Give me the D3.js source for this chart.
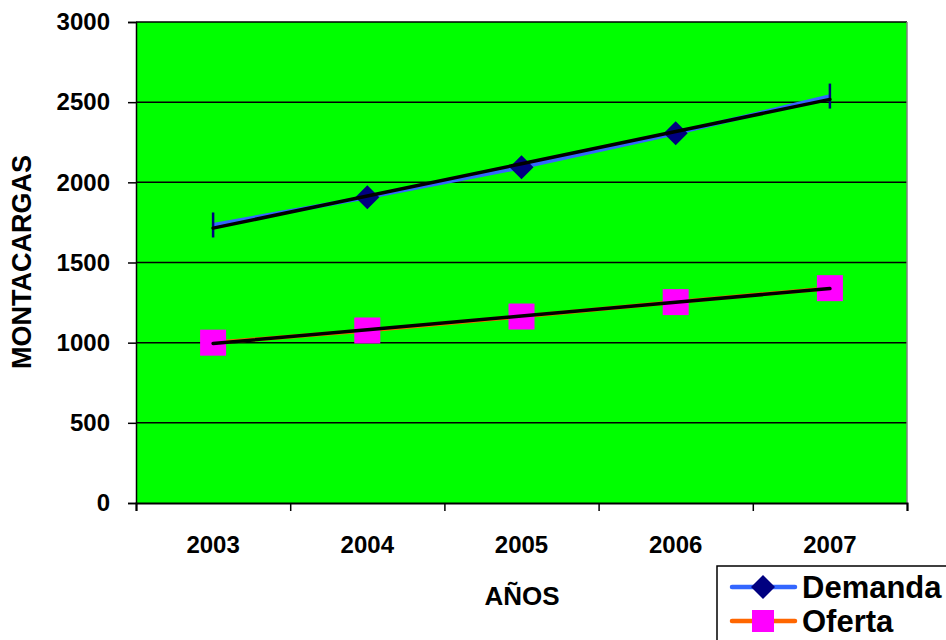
<!DOCTYPE html>
<html>
<head>
<meta charset="utf-8">
<script src="https://cdn.jsdelivr.net/npm/d3@7"></script>
<style>
  body { margin: 0; background: #fff; }
  text { font-family: "Liberation Sans", Arial, sans-serif; font-weight: bold; }
</style>
</head>
<body>
<script>
// data
var years = ["2003", "2004", "2005", "2006", "2007"];
var demanda = [1734, 1907, 2094, 2306, 2538];
var oferta = [1000, 1076, 1163, 1253, 1340];
var yTicks = [0, 500, 1000, 1500, 2000, 2500, 3000];

var width = 946, height = 640;
var plot = {left: 136, right: 907, top: 22, bottom: 503};

var svg = d3.select("body").append("svg")
    .attr("width", width)
    .attr("height", height);

var x = d3.scaleBand().domain(years).range([plot.left, plot.right]);
var xEdge = d3.scaleLinear().domain([0, years.length]).range([plot.left, plot.right]);
var y = d3.scaleLinear().domain([0, 3000]).range([plot.bottom, plot.top]);
var cx = function(d, i) { return x(years[i]) + x.bandwidth() / 2; };

// plot area
svg.append("rect")
    .attr("x", plot.left).attr("y", plot.top)
    .attr("width", plot.right - plot.left).attr("height", plot.bottom - plot.top)
    .attr("fill", "#00ff00");

// gridlines
svg.append("g").selectAll("line")
    .data(yTicks.slice(1))
    .enter().append("line")
    .attr("x1", plot.left).attr("x2", plot.right)
    .attr("y1", function(d) { return y(d); })
    .attr("y2", function(d) { return y(d); })
    .attr("stroke", "#000").attr("stroke-width", 1.5);

// right border
svg.append("line")
    .attr("x1", plot.right).attr("x2", plot.right)
    .attr("y1", plot.top).attr("y2", plot.bottom)
    .attr("stroke", "#808080").attr("stroke-width", 1.5);

// y axis
var yAxis = svg.append("g")
    .attr("transform", "translate(" + plot.left + ",0)")
    .call(d3.axisLeft(y).tickValues(yTicks).tickFormat(d3.format("d")).tickSize(8).tickPadding(18));
yAxis.select(".domain").attr("stroke-width", 1.5);
yAxis.selectAll(".tick line").attr("stroke-width", 1.5);
yAxis.selectAll("text").attr("font-size", 24).attr("fill", "#000");

// x axis: ticks at category edges, labels at centers
var xTicks = svg.append("g")
    .attr("transform", "translate(0," + plot.bottom + ")")
    .call(d3.axisBottom(xEdge).ticks(years.length).tickSize(8).tickFormat(""));
xTicks.select(".domain").attr("stroke-width", 2);
xTicks.selectAll(".tick line").attr("stroke-width", 1.5);

var xLabels = svg.append("g")
    .attr("transform", "translate(0," + plot.bottom + ")")
    .call(d3.axisBottom(x).tickSize(0).tickPadding(33));
xLabels.select(".domain").remove();
xLabels.selectAll("text").attr("font-size", 24).attr("fill", "#000");

// axis titles
svg.append("text")
    .attr("x", 522).attr("y", 605)
    .attr("text-anchor", "middle")
    .attr("font-size", 26)
    .text("AÑOS");

svg.append("text")
    .attr("transform", "translate(31,262) rotate(-90)")
    .attr("text-anchor", "middle")
    .attr("font-size", 27)
    .text("MONTACARGAS");

// linear trendline like the spreadsheet one
function trend(vals) {
    var n = vals.length, mx = (n - 1) / 2, my = d3.mean(vals);
    var sxy = 0, sxx = 0;
    vals.forEach(function(v, i) { sxy += (i - mx) * (v - my); sxx += (i - mx) * (i - mx); });
    var b = sxy / sxx, a = my - b * mx;
    return vals.map(function(v, i) { return a + b * i; });
}

var line = d3.line()
    .x(cx)
    .y(function(d) { return y(d); });

// series lines
svg.append("path").datum(demanda)
    .attr("d", line).attr("fill", "none")
    .attr("stroke", "#3366ff").attr("stroke-width", 4);
svg.append("path").datum(oferta)
    .attr("d", line).attr("fill", "none")
    .attr("stroke", "#ff6600").attr("stroke-width", 4);

// demanda markers: diamonds, bars at the ends
var dm = svg.append("g");
dm.selectAll("path")
    .data(demanda)
    .enter().append("path")
    .attr("d", function(d, i) {
        var px = cx(d, i), py = y(d), s = 12;
        if (i === 0 || i === demanda.length - 1) {
            return "M" + px + "," + (py - 12.5) + "V" + (py + 12.5);
        }
        return "M" + px + "," + (py - s) + "L" + (px + s) + "," + py +
               "L" + px + "," + (py + s) + "L" + (px - s) + "," + py + "Z";
    })
    .attr("fill", function(d, i) { return (i === 0 || i === demanda.length - 1) ? "none" : "#000080"; })
    .attr("stroke", "#000080")
    .attr("stroke-width", function(d, i) { return (i === 0 || i === demanda.length - 1) ? 2.5 : 0; });

// oferta markers: squares
svg.append("g").selectAll("rect")
    .data(oferta)
    .enter().append("rect")
    .attr("x", function(d, i) { return cx(d, i) - 13; })
    .attr("y", function(d) { return y(d) - 13; })
    .attr("width", 26).attr("height", 26)
    .attr("fill", "#ff00ff");

// trendlines
[demanda, oferta].forEach(function(s) {
    svg.append("path").datum(trend(s))
        .attr("d", line).attr("fill", "none")
        .attr("stroke", "#000").attr("stroke-width", 3.5)
        .attr("stroke-linecap", "round");
});

// legend
var lg = svg.append("g");
lg.append("rect")
    .attr("x", 717).attr("y", 566)
    .attr("width", 260).attr("height", 90)
    .attr("fill", "#fff").attr("stroke", "#000").attr("stroke-width", 1.5);

var legendItems = [
    {name: "Demanda", color: "#3366ff", marker: "diamond", y: 587},
    {name: "Oferta", color: "#ff6600", marker: "square", y: 621}
];
legendItems.forEach(function(it) {
    lg.append("line")
        .attr("x1", 732).attr("x2", 795)
        .attr("y1", it.y).attr("y2", it.y)
        .attr("stroke", it.color).attr("stroke-width", 4.5)
        .attr("stroke-linecap", "round");
    if (it.marker === "diamond") {
        lg.append("path")
            .attr("d", "M763," + (it.y - 12) + "L775," + it.y + "L763," + (it.y + 12) + "L751," + it.y + "Z")
            .attr("fill", "#000080");
    } else {
        lg.append("rect")
            .attr("x", 752).attr("y", it.y - 11)
            .attr("width", 22).attr("height", 22)
            .attr("fill", "#ff00ff");
    }
    lg.append("text")
        .attr("x", 802).attr("y", it.y + 11)
        .attr("font-size", 31)
        .text(it.name);
});
</script>
</body>
</html>
